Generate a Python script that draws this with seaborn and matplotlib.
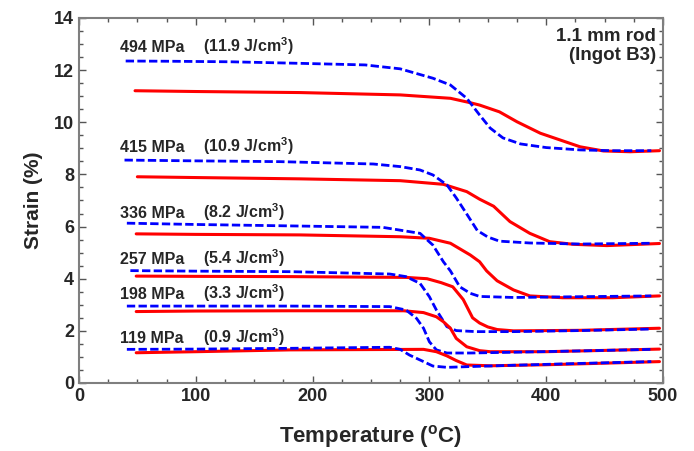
import pandas as pd
import matplotlib
matplotlib.use("Agg")
import matplotlib.pyplot as plt
import seaborn as sns

# stress levels and work output labels
stresses = ["494 MPa", "415 MPa", "336 MPa", "257 MPa", "198 MPa", "119 MPa"]
energies = ["11.9", "10.9", "8.2", "5.4", "3.3", "0.9"]
label_y = [12.7, 8.86, 6.33, 4.56, 3.22, 1.53]

# cooling curves (blue, dashed)
t_cool_494 = [40, 80, 130, 190, 245, 275, 303, 318, 332, 343, 352, 363, 378, 400, 429, 457, 490]
s_cool_494 = [12.35, 12.34, 12.32, 12.26, 12.2, 12.05, 11.69, 11.43, 10.92, 10.28, 9.78, 9.4, 9.17, 9.03, 8.94, 8.91, 8.91]
t_cool_415 = [39, 100, 172, 252, 275, 292, 303, 315, 323, 332, 341, 350, 360, 386, 429, 490]
s_cool_415 = [8.55, 8.52, 8.49, 8.4, 8.3, 8.17, 7.98, 7.6, 7.1, 6.48, 5.85, 5.6, 5.44, 5.37, 5.33, 5.36]
t_cool_336 = [41, 100, 189, 260, 292, 303, 312, 318, 326, 335, 343, 372, 429, 490]
s_cool_336 = [6.13, 6.08, 6.02, 5.97, 5.74, 5.29, 4.65, 4.3, 3.69, 3.44, 3.32, 3.28, 3.31, 3.34]
t_cool_257 = [44, 100, 181, 266, 280, 292, 300, 306, 315, 323, 340, 372, 429, 490]
s_cool_257 = [4.31, 4.29, 4.27, 4.18, 4.08, 3.82, 3.31, 2.8, 2.16, 2.01, 1.97, 1.97, 2.01, 2.07]
t_cool_198 = [41, 100, 181, 266, 280, 289, 295, 300, 306, 315, 335, 372, 429, 490]
s_cool_198 = [2.95, 2.95, 2.95, 2.93, 2.8, 2.48, 2.1, 1.58, 1.27, 1.15, 1.15, 1.18, 1.23, 1.29]
t_cool_119 = [41, 100, 181, 266, 275, 283, 295, 303, 315, 335, 372, 429, 490]
s_cool_119 = [1.29, 1.3, 1.33, 1.37, 1.29, 1.07, 0.82, 0.65, 0.6, 0.63, 0.68, 0.75, 0.82]

# heating curves (red, solid)
t_heat_494 = [48, 100, 189, 275, 318, 335, 343, 360, 375, 395, 412, 429, 449, 472, 497]
s_heat_494 = [11.21, 11.18, 11.14, 11.05, 10.92, 10.75, 10.66, 10.4, 10.02, 9.58, 9.32, 9.06, 8.9, 8.87, 8.91]
t_heat_415 = [50, 100, 189, 275, 312, 332, 343, 355, 369, 386, 403, 423, 452, 497]
s_heat_415 = [7.91, 7.88, 7.83, 7.76, 7.62, 7.34, 7.05, 6.78, 6.19, 5.74, 5.42, 5.32, 5.27, 5.35]
t_heat_336 = [49, 100, 189, 275, 300, 318, 335, 343, 349, 358, 372, 386, 414, 457, 497]
s_heat_336 = [5.72, 5.7, 5.68, 5.61, 5.55, 5.36, 4.91, 4.65, 4.3, 3.92, 3.57, 3.34, 3.27, 3.27, 3.34]
t_heat_257 = [49, 100, 181, 280, 298, 310, 320, 329, 337, 343, 350, 358, 372, 429, 497]
s_heat_257 = [4.1, 4.09, 4.08, 4.05, 4.0, 3.85, 3.69, 3.2, 2.5, 2.3, 2.15, 2.05, 2.0, 2.02, 2.1]
t_heat_198 = [49, 100, 181, 278, 295, 306, 312, 318, 323, 332, 343, 352, 400, 450, 497]
s_heat_198 = [2.74, 2.76, 2.77, 2.77, 2.7, 2.54, 2.35, 2.1, 1.71, 1.39, 1.24, 1.2, 1.2, 1.25, 1.3]
t_heat_119 = [49, 100, 181, 295, 306, 315, 323, 332, 352, 400, 450, 497]
s_heat_119 = [1.16, 1.2, 1.27, 1.29, 1.2, 1.04, 0.86, 0.69, 0.66, 0.7, 0.76, 0.82]

cool = [(t_cool_494, s_cool_494), (t_cool_415, s_cool_415), (t_cool_336, s_cool_336),
        (t_cool_257, s_cool_257), (t_cool_198, s_cool_198), (t_cool_119, s_cool_119)]
heat = [(t_heat_494, s_heat_494), (t_heat_415, s_heat_415), (t_heat_336, s_heat_336),
        (t_heat_257, s_heat_257), (t_heat_198, s_heat_198), (t_heat_119, s_heat_119)]

sns.set_style("ticks")
plt.rcParams['font.family'] = ['Liberation Sans', 'DejaVu Sans']
plt.rcParams['mathtext.fontset'] = 'custom'
plt.rcParams['mathtext.bf'] = 'Liberation Sans:bold'
plt.rcParams['mathtext.rm'] = 'Liberation Sans'

fig = plt.figure(figsize=(6.94, 4.51), dpi=100)
ax = fig.add_axes([0.1138, 0.1508, 0.8415, 0.8093])

for i, stress in enumerate(stresses):
    df_h = pd.DataFrame({'T': heat[i][0], 'S': heat[i][1]})
    df_c = pd.DataFrame({'T': cool[i][0], 'S': cool[i][1]})
    sns.lineplot(data=df_h, x='T', y='S', ax=ax, color='#ff0000', linewidth=2.2, sort=False)
    sns.lineplot(data=df_c, x='T', y='S', ax=ax, color='#0000ff', linewidth=2.0, sort=False,
                 dashes=False, linestyle=(0, (3, 1.2)))
    ax.text(35, label_y[i], stress, fontsize=11.5, fontweight='bold', va='baseline')
    ax.text(106, label_y[i], "(" + energies[i] + r" J/cm$^{\mathbf{3}}$)", fontsize=11.5,
            fontweight='bold', va='baseline')

ax.text(494, 13.6, "1.1 mm rod\n(Ingot B3)", ha='right', va='top', fontsize=13.5,
        fontweight='bold', linespacing=1.1)

ax.set_xlim(0, 500)
ax.set_ylim(0, 14)
ax.set_xticks(range(0, 501, 100))
ax.set_xticks(range(0, 501, 25), minor=True)
ax.set_yticks(range(0, 15, 2))
ax.set_yticks([v * 0.5 for v in range(0, 29)], minor=True)
ax.tick_params(which='both', direction='in', top=True, right=True, color='#555555', width=1)
ax.tick_params(which='major', length=5, labelsize=13)
ax.tick_params(which='minor', length=3)
for lab in ax.get_xticklabels() + ax.get_yticklabels():
    lab.set_fontweight('bold')
for sp in ax.spines.values():
    sp.set_color('#7f7f7f')
    sp.set_linewidth(1.5)

ax.set_xlabel(r"Temperature ($\mathbf{^{o}}$C)", fontsize=16, fontweight='bold', labelpad=13)
ax.set_ylabel("Strain (%)", fontsize=15, fontweight='bold', labelpad=8)

plt.savefig("out.png", dpi=100)
plt.close()
